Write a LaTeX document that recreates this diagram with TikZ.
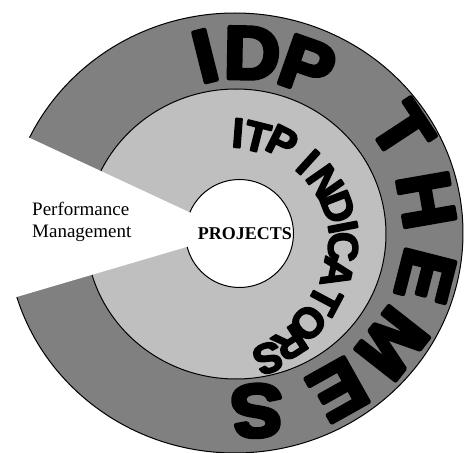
\documentclass[tikz,border=0pt]{standalone}
\usepackage{fontspec}
\setmainfont{Liberation Serif}
\newfontfamily\heavysans{Liberation Sans}[UprightFont={* Bold}, FakeBold=6, FakeStretch=1.05]
\newfontfamily\midsans{Liberation Sans}[UprightFont={* Bold}, FakeBold=4]

\begin{document}
\begin{tikzpicture}[x=1pt, y=1pt,
        ring/.style={draw=black, line width=1pt},
        bigletter/.style={font=\heavysans\fontsize{74}{74}\selectfont, inner sep=0pt},
        midletter/.style={font=\midsans\fontsize{42}{42}\selectfont, inner sep=0pt},
    ]
    \useasboundingbox (-238,233) rectangle (226,-220);

    % ---- Rings ----
    \draw[ring, fill=black!50] (-3,0) ellipse [x radius=228, y radius=220];
    \draw[ring, fill=black!25] (-2,-1) ellipse [x radius=150, y radius=145];
    \draw[ring, fill=white] (1.5,-0.5) circle [radius=54];

    % ---- White cut-out on the left ----
    \coordinate (hub) at (-4,0);
    \coordinate (cutup) at (-264,121);
    \coordinate (cutlow) at (-269,-78);
    \fill[white] (hub) -- (cutup) -- (cutlow) -- cycle;

    % ---- Outer ring lettering ----
    \begin{scope}[shift={(11,2)}, line join=round, miter limit=1]
        \foreach \ch/\ang/\rad [count=\i] in {I/104.1/180.4, D/89/178, P/70.6/175,
                T/33.3/183, H/9.9/180, E/-14.3/182, M/-38.1/182, E/-60.7/182, S/-87.5/180}
            \node[bigletter, rotate=\ang-90] (theme\i) at (\ang:\rad) {\ch};
    \end{scope}

    % ---- Middle ring lettering ----
    \begin{scope}[shift={(-9,-16)}, line join=round, miter limit=1]
        \foreach \ch/\ang/\rad [count=\i] in {I/85.6/116.3, T/76/115.4, P/63.6/119.4,
                I/47.8/117.5, N/34.9/117, D/21.1/116.8, I/10.9/116.1, C/1/114, A/-12.5/110.6,
                T/-28/108.7, O/-43.1/108.2, R/-57/112, S/-70.3/115.8}
            \node[midletter, rotate=\ang-90] (indic\i) at (\ang:\rad) {\ch};
    \end{scope}

    % ---- Plain labels ----
    \node[align=left, anchor=west, inner sep=0pt, font=\fontsize{19}{22}\selectfont] (perf) at (-206,11.6)
        {Performance\\Management};
    \node[inner sep=0pt, font=\bfseries\fontsize{18}{18}\selectfont] (proj) at (7,-1) {PROJECTS};

\end{tikzpicture}
\end{document}
